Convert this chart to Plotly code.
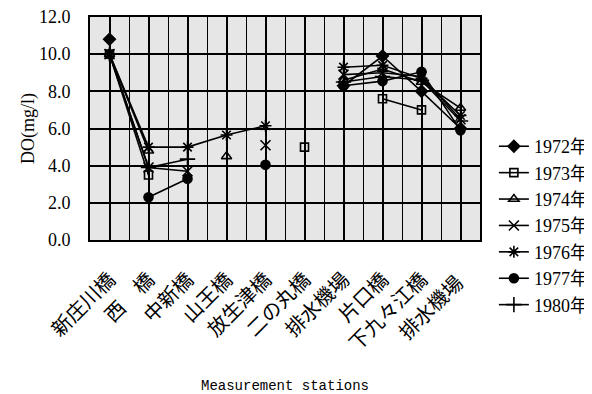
import plotly.graph_objects as go

stations = ["新庄川橋", "西　橋", "中新橋", "山王橋", "放生津橋", "二の丸橋", "排水機場", "片口橋", "下九々江橋", "排水機場 "]
years = ["1972年", "1973年", "1974年", "1975年", "1976年", "1977年", "1980年"]

do_1972 = [10.8, None, None, None, None, None, 8.3, 9.9, 8.0, 6.0]
do_1973 = [10.0, 3.5, None, None, None, 5.0, None, 7.6, 7.0, None]
do_1974 = [10.0, 4.8, None, 4.5, None, None, 8.6, 9.2, 8.5, 7.1]
do_1975 = [10.0, 3.9, 3.7, None, 5.1, None, 8.9, 9.0, 8.8, 6.5]
do_1976 = [10.0, 5.0, 5.0, 5.65, 6.15, None, 9.3, 9.4, 8.7, 6.7]
do_1977 = [None, 2.3, 3.3, None, 4.05, None, 8.3, 8.55, 9.05, 5.9]
do_1980 = [10.0, 3.9, 4.35, None, None, None, 8.5, 8.8, 8.6, 6.4]

series = [do_1972, do_1973, do_1974, do_1975, do_1976, do_1977, do_1980]
symbols = ["diamond", "square-open", "triangle-up-open", "x-thin-open", "asterisk-open", "circle", "cross-thin-open"]
sizes = [9, 8, 9, 10, 10, 9, 11]

xs = list(range(len(stations)))
fig = go.Figure()
for name, vals, sym, sz in zip(years, series, symbols, sizes):
    fig.add_trace(go.Scatter(
        x=xs, y=vals, name=name, mode="lines+markers",
        connectgaps=False,
        line=dict(color="black", width=1.6),
        marker=dict(symbol=sym, size=sz, color="black",
                    line=dict(color="black", width=1.6)),
    ))

# page body has an 8px default margin; figure sized to compensate
fig.update_layout(
    width=584, height=386,
    margin=dict(l=82, r=112, t=9, b=154),
    paper_bgcolor="white",
    plot_bgcolor="#e6e6e6",
    font=dict(family="Liberation Serif, serif", color="black"),
    showlegend=True,
    legend=dict(xref="container", yref="container",
                x=0.832, xanchor="left", y=0.689, yanchor="top",
                font=dict(size=18, family="Liberation Serif, Noto Sans CJK JP"),
                bgcolor="rgba(0,0,0,0)", tracegroupgap=0, itemwidth=30),
)
fig.update_xaxes(
    automargin=False,
    range=[-0.5, len(stations) - 0.5],
    tickvals=xs, ticktext=stations, tickangle=-45,
    tickfont=dict(size=20, family="Noto Sans CJK JP"),
    ticklabelstandoff=18, ticklabeloverflow="allow",
    showgrid=True, gridcolor="black", gridwidth=1.5,
    minor=dict(tick0=-0.5, dtick=1, showgrid=True, gridcolor="black", gridwidth=1),
    zeroline=False, showline=True, linecolor="black", linewidth=2, mirror=True,
    ticks="",
    title=dict(text="Measurement stations", font=dict(size=14, family="Liberation Mono, monospace"), standoff=32),
)
fig.update_yaxes(
    automargin=False,
    range=[0, 12], dtick=2, tickformat=".1f",
    tickfont=dict(size=18, family="Liberation Serif, serif"),
    ticklabeloverflow="allow",
    showgrid=True, gridcolor="black", gridwidth=2,
    zeroline=False, showline=True, linecolor="black", linewidth=2, mirror=True,
    ticks="", ticklabelstandoff=14,
    title=dict(text="DO(mg/l)", font=dict(size=18, family="Liberation Serif, serif"), standoff=0),
)
fig.write_html("out.html")
